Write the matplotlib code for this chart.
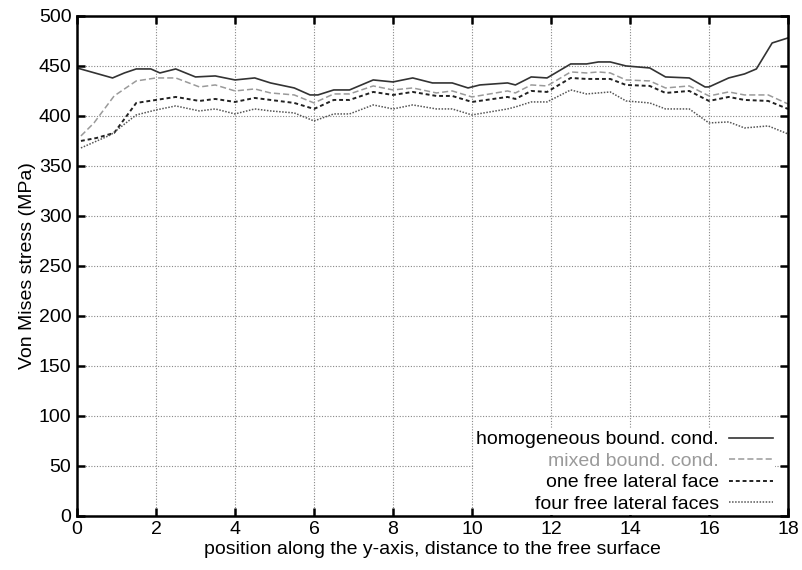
import matplotlib
matplotlib.use('Agg')
import matplotlib.pyplot as plt

plt.rcParams['font.family'] = ['Liberation Sans', 'DejaVu Sans']

# Data
x_hom = [0, 0.9, 1.2, 1.5, 1.87, 2.1, 2.5, 3.0, 3.5, 4.0, 4.5, 4.9, 5.5, 5.9, 6.1,
         6.5, 6.9, 7.5, 8.0, 8.5, 9.0, 9.5, 9.9, 10.2, 10.9, 11.1, 11.5, 11.9, 12.5,
         12.9, 13.2, 13.5, 13.9, 14.5, 14.9, 15.5, 15.9, 16.0, 16.5, 16.9, 17.2, 17.6, 18.0]
y_hom = [448, 438, 443, 447, 447, 443, 447, 439, 440, 436, 438, 433, 428, 421, 421,
         426, 426, 436, 434, 438, 433, 433, 428, 431, 433, 431, 439, 438, 452,
         452, 454, 454, 450, 448, 439, 438, 429, 429, 438, 442, 447, 473, 478]

x_mix = [0.1, 0.43, 0.94, 1.5, 2.0, 2.5, 3.1, 3.5, 4.0, 4.5, 4.9, 5.5, 6.0, 6.5, 6.9,
         7.5, 8.0, 8.5, 9.1, 9.5, 10.0, 10.9, 11.1, 11.5, 11.9, 12.5, 12.9, 13.2, 13.5,
         13.9, 14.5, 14.9, 15.5, 16.0, 16.5, 16.9, 17.5, 18.0]
y_mix = [380, 393, 420, 435, 438, 438, 429, 431, 425, 427, 423, 421, 413, 422, 422,
         430, 426, 428, 423, 425, 419, 425, 423, 431, 430, 444, 443, 444, 443,
         436, 435, 428, 430, 420, 424, 421, 421, 412]

x_one = [0.1, 0.5, 0.94, 1.5, 2.0, 2.5, 3.1, 3.5, 4.0, 4.5, 4.9, 5.5, 6.0, 6.5, 6.9,
         7.5, 8.0, 8.5, 9.1, 9.5, 10.0, 10.9, 11.1, 11.5, 11.9, 12.5, 12.9, 13.5,
         13.9, 14.5, 14.9, 15.5, 16.0, 16.5, 16.9, 17.5, 18.0]
y_one = [375, 378, 383, 413, 416, 419, 415, 417, 414, 418, 416, 413, 407, 416, 416,
         424, 421, 424, 420, 420, 414, 419, 417, 425, 424, 438, 437, 437,
         431, 430, 423, 425, 415, 419, 416, 415, 407]

x_four = [0.1, 0.85, 1.5, 2.0, 2.5, 3.1, 3.5, 4.0, 4.5, 4.9, 5.5, 6.0, 6.5, 6.9,
          7.5, 8.0, 8.5, 9.1, 9.5, 10.0, 10.9, 11.1, 11.5, 11.9, 12.5, 12.9, 13.5,
          13.9, 14.5, 14.9, 15.5, 16.0, 16.5, 16.9, 17.5, 18.0]
y_four = [368, 381, 401, 406, 410, 405, 407, 402, 407, 405, 403, 395, 402, 402,
          411, 407, 411, 407, 407, 401, 407, 409, 414, 414, 426, 422, 424,
          415, 413, 407, 407, 393, 394, 388, 390, 382]

fig = plt.figure(figsize=(8.02, 5.70), dpi=100)
ax = fig.add_axes([0.096, 0.095, 0.8865, 0.877])

ax.plot(x_hom, y_hom, color='#333333', lw=1.2, ls='-', label='homogeneous bound. cond.')
ax.plot(x_mix, y_mix, color='#9a9a9a', lw=1.1, ls=(0, (4, 2)), label='mixed bound. cond.')
ax.plot(x_one, y_one, color='#222222', lw=1.4, ls=(0, (2, 1.5)), label='one free lateral face')
ax.plot(x_four, y_four, color='#555555', lw=1.1, ls=(0, (1, 1)), label='four free lateral faces')

ax.set_xlim(0, 18)
ax.set_ylim(0, 500)
ax.set_xticks(range(0, 19, 2))
ax.set_yticks(range(0, 501, 50))
ax.grid(True, color='#888888', ls=(0, (1, 1.5)), lw=0.8)
ax.set_axisbelow(True)

for s in ax.spines.values():
    s.set_linewidth(1.8)
ax.tick_params(direction='in', length=6, width=1.8, top=True, right=True,
               labelsize=14, pad=4)

ax.set_xlabel('position along the y-axis, distance to the free surface', fontsize=14, labelpad=2)
ax.set_ylabel('Von Mises stress (MPa)', fontsize=14, labelpad=2)

leg = ax.legend(loc='lower right', bbox_to_anchor=(0.982, 0.002), fontsize=14,
                markerfirst=False, frameon=True, framealpha=1, edgecolor='none',
                fancybox=False, handlelength=2.3, labelspacing=0.2, borderpad=0.1,
                borderaxespad=0.0, handletextpad=0.5)
for t in leg.get_texts():
    t.set_ha('right')
leg._legend_box.align = 'right'
leg.get_texts()[1].set_color('#9a9a9a')

fig.savefig('out.png', dpi=100)
